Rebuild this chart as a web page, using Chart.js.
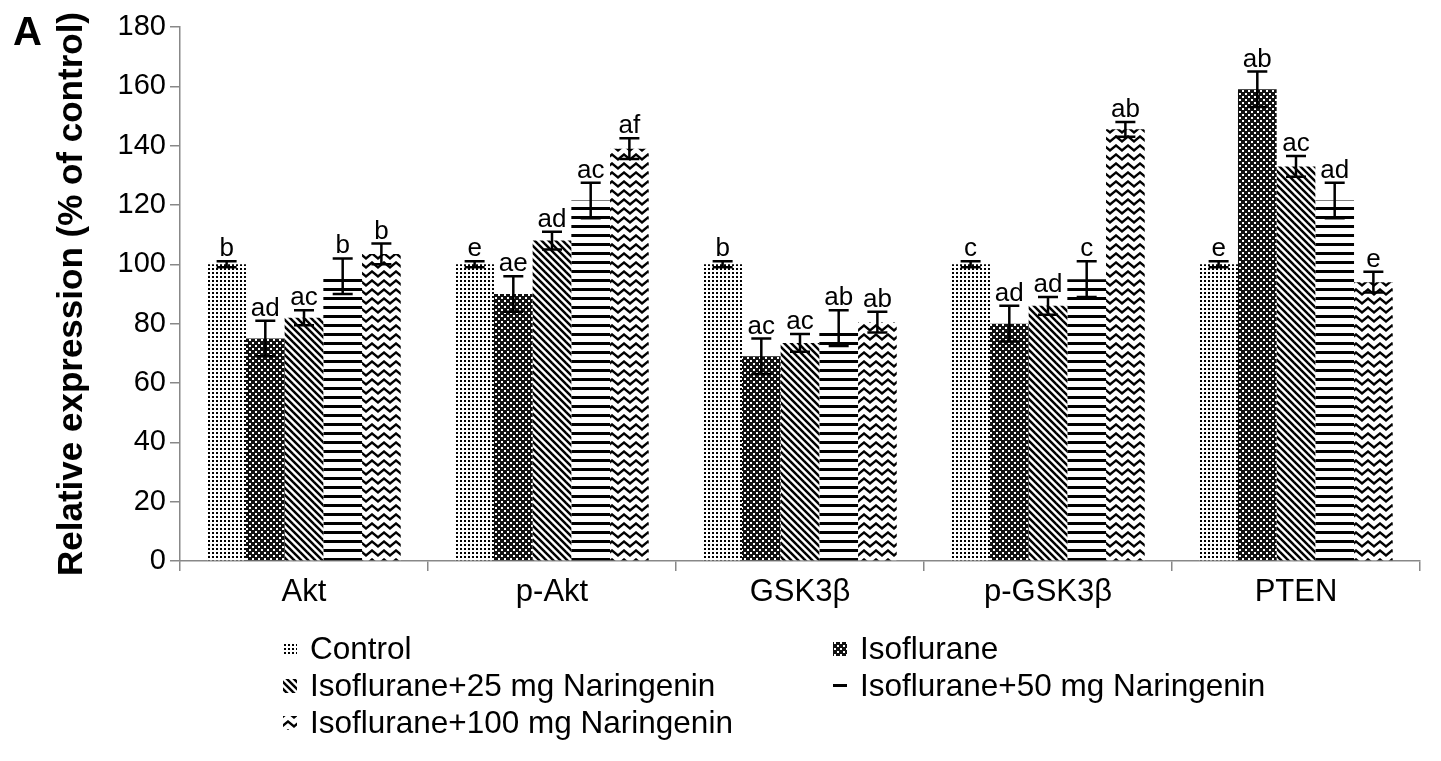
<!DOCTYPE html>
<html>
<head>
<meta charset="utf-8">
<script src="https://cdn.jsdelivr.net/npm/chart.js@4.4.0/dist/chart.umd.min.js"></script>
<style>
  body { margin: 0; background: #fff; }
  canvas { display: block; }
</style>
</head>
<body>
<canvas id="expression-chart" width="1441" height="761"></canvas>
<script>
// data
var categories = ['Akt', 'p-Akt', 'GSK3\u03b2', 'p-GSK3\u03b2', 'PTEN'];
var seriesNames = [
    'Control',
    'Isoflurane',
    'Isoflurane+25 mg Naringenin',
    'Isoflurane+50 mg Naringenin',
    'Isoflurane+100 mg Naringenin'
];
var controlValues = [100, 100, 100, 100, 100];
var isoValues     = [75, 90, 69, 80, 159];
var n25Values     = [82, 108, 73.5, 86, 133];
var n50Values     = [96, 121.5, 78.5, 95, 121.5];
var n100Values    = [103.5, 139, 80.5, 145.5, 94];

var controlErr = [1, 1, 1, 1, 1];
var isoErr     = [6, 6, 6, 6, 6];
var n25Err     = [2.5, 3, 3, 3, 3.5];
var n50Err     = [6, 6, 6, 6, 6];
var n100Err    = [3.5, 3.5, 3.5, 2.5, 3.5];

var controlMarks = ['b', 'e', 'b', 'c', 'e'];
var isoMarks     = ['ad', 'ae', 'ac', 'ad', 'ab'];
var n25Marks     = ['ac', 'ad', 'ac', 'ad', 'ac'];
var n50Marks     = ['b', 'ac', 'ab', 'c', 'ad'];
var n100Marks    = ['b', 'af', 'ab', 'ab', 'e'];

var yTicksMin = 0, yTicksMax = 180, yTicksStep = 20;

var FONT = "'Liberation Sans', Arial, sans-serif";

// fill patterns, black on white
function makePattern(kind) {
    var c = document.createElement('canvas');
    var g = c.getContext('2d');
    if (kind === 'dots') {
        c.width = 4; c.height = 4;
        g.fillStyle = '#fff'; g.fillRect(0, 0, 4, 4);
        g.fillStyle = '#000'; g.fillRect(0, 0, 2, 2);
    } else if (kind === 'cross') {
        c.width = 6; c.height = 6;
        g.fillStyle = '#111'; g.fillRect(0, 0, 6, 6);
        g.fillStyle = '#fff';
        g.fillRect(0, 0, 2, 2);
        g.fillRect(3, 3, 2, 2);
    } else if (kind === 'diag') {
        c.width = 7; c.height = 7;
        g.fillStyle = '#fff'; g.fillRect(0, 0, 7, 7);
        g.strokeStyle = '#000'; g.lineWidth = 2.5;
        for (var k = -7; k <= 7; k += 7) {
            g.beginPath(); g.moveTo(k - 1, -1); g.lineTo(k + 8, 8); g.stroke();
        }
    } else if (kind === 'hlines') {
        c.width = 4; c.height = 9;
        g.fillStyle = '#fff'; g.fillRect(0, 0, 4, 9);
        g.fillStyle = '#000'; g.fillRect(0, 0, 4, 3);
    } else if (kind === 'zigzag') {
        c.width = 12; c.height = 9;
        g.fillStyle = '#fff'; g.fillRect(0, 0, 12, 9);
        g.strokeStyle = '#000'; g.lineWidth = 2.4;
        g.beginPath(); g.moveTo(-3, 4.5); g.lineTo(0, 1.5); g.lineTo(6, 6.5); g.lineTo(12, 1.5); g.lineTo(15, 4.5); g.stroke();
    }
    return g.createPattern(c, 'repeat');
}

var patterns = [makePattern('dots'), makePattern('cross'), makePattern('diag'), makePattern('hlines'), makePattern('zigzag')];
var allValues = [controlValues, isoValues, n25Values, n50Values, n100Values];
var allErr = [controlErr, isoErr, n25Err, n50Err, n100Err];
var allMarks = [controlMarks, isoMarks, n25Marks, n50Marks, n100Marks];

var datasets = seriesNames.map(function (name, i) {
    return {
        label: name,
        data: allValues[i],
        errors: allErr[i],
        marks: allMarks[i],
        backgroundColor: patterns[i],
        borderWidth: 0
    };
});

// error bars + significance letters
var errorBarPlugin = {
    id: 'errorBars',
    afterDatasetsDraw: function (chart) {
        var ctx = chart.ctx;
        var y = chart.scales.y;
        ctx.save();
        ctx.strokeStyle = '#000';
        ctx.lineWidth = 2.5;
        ctx.fillStyle = '#000';
        ctx.font = '26px ' + FONT;
        ctx.textAlign = 'center';
        ctx.textBaseline = 'alphabetic';
        chart.data.datasets.forEach(function (ds, di) {
            var meta = chart.getDatasetMeta(di);
            meta.data.forEach(function (bar, i) {
                var v = ds.data[i], e = ds.errors[i];
                var yTop = y.getPixelForValue(v + e);
                var yBot = y.getPixelForValue(v - e);
                var x = bar.x;
                ctx.beginPath();
                ctx.moveTo(x, yTop); ctx.lineTo(x, yBot);
                ctx.moveTo(x - 10, yTop); ctx.lineTo(x + 10, yTop);
                ctx.moveTo(x - 10, yBot); ctx.lineTo(x + 10, yBot);
                ctx.stroke();
                ctx.fillText(ds.marks[i], x, yTop - 5);
            });
        });
        ctx.restore();
    }
};

// panel letter and two-column legend
var decorPlugin = {
    id: 'decor',
    afterDraw: function (chart) {
        var ctx = chart.ctx;
        ctx.save();
        ctx.fillStyle = '#000';
        ctx.font = 'bold 40px ' + FONT;
        ctx.textBaseline = 'alphabetic';
        ctx.fillText('A', 13, 45);

        var spots = [[283, 650], [833, 650], [283, 687], [833, 687], [283, 724]];
        ctx.font = '31.5px ' + FONT;
        ctx.textBaseline = 'middle';
        seriesNames.forEach(function (name, i) {
            var sx = spots[i][0], sy = spots[i][1];
            ctx.fillStyle = patterns[i];
            ctx.fillRect(sx, sy - 8, 14, 14);
            ctx.fillStyle = '#000';
            ctx.fillText(name, sx + 27, sy);
        });
        ctx.restore();
    }
};

var expressionCtx = document.getElementById('expression-chart');

var expressionChart = new Chart(expressionCtx, {
    type: 'bar',
    data: {
        labels: categories,
        datasets: datasets
    },
    options: {
        responsive: false,
        animation: false,
        layout: {
            padding: { top: 27, right: 21, left: 0, bottom: 0 }
        },
        datasets: {
            bar: { categoryPercentage: 0.78, barPercentage: 1.0 }
        },
        plugins: {
            legend: { display: false },
            tooltip: { enabled: false }
        },
        scales: {
            x: {
                afterFit: function (scale) { scale.height = 200; },
                grid: {
                    drawOnChartArea: false,
                    offset: true,
                    tickLength: 10,
                    color: '#888',
                    lineWidth: 1.5
                },
                border: { color: '#888', width: 1.5 },
                ticks: {
                    color: '#000',
                    padding: 3,
                    font: { family: FONT, size: 31 }
                }
            },
            y: {
                min: yTicksMin,
                max: yTicksMax,
                afterFit: function (scale) { scale.width = 180; },
                grid: {
                    drawOnChartArea: false,
                    tickLength: 10,
                    color: '#888',
                    lineWidth: 1.5
                },
                border: { color: '#888', width: 1.5 },
                ticks: {
                    stepSize: yTicksStep,
                    color: '#000',
                    padding: 4,
                    font: { family: FONT, size: 29 }
                },
                title: {
                    display: true,
                    text: 'Relative expression (% of control)',
                    color: '#000',
                    font: { family: FONT, size: 35, weight: 'bold' },
                    padding: { top: 51, bottom: 0 }
                }
            }
        }
    },
    plugins: [errorBarPlugin, decorPlugin]
});
</script>
</body>
</html>
